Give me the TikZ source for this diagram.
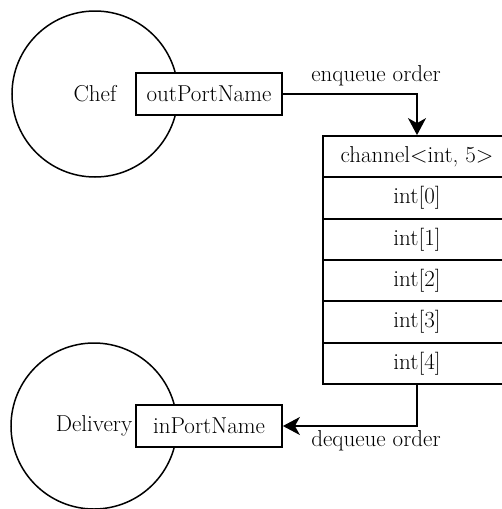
\documentclass[tikz,border=0pt]{standalone}
\usepackage{fontspec}
\usetikzlibrary{arrows.meta}

\tikzset{
  x=1pt, y=-1pt,
  every node/.style={font=\fontsize{23}{27}\selectfont, inner sep=0pt},
  actor/.style={circle, draw, line width=1.5pt, minimum size=166pt},
  port/.style={draw, fill=white, line width=1.8pt, minimum width=146pt, minimum height=42pt},
  slot/.style={draw, line width=1.8pt, minimum width=188pt, minimum height=41.33pt},
  flow/.style={line width=1.8pt, -{Stealth[length=17pt, width=18pt, inset=5pt]}},
}

\begin{document}
\begin{tikzpicture}
  \useasboundingbox (0,0) rectangle (502,509);

  % processes
  \node[actor] (chef) at (95,94) {Chef};
  \node[actor] (delivery) at (94,426) {Delivery};

  % ports
  \node[port] (outport) at (209,94) {outPortName};
  \node[port] (inport) at (209,426) {inPortName};

  % channel buffer
  \node[slot] (chan) at (417,156.67) {channel<int, 5>};
  \node[slot] (s0) at (417,198.00) {int[0]};
  \node[slot] (s1) at (417,239.33) {int[1]};
  \node[slot] (s2) at (417,280.67) {int[2]};
  \node[slot] (s3) at (417,322.00) {int[3]};
  \node[slot] (s4) at (417,363.33) {int[4]};

  % data flow
  \draw[flow] (outport.east) -| (chan.north);
  \node (enq) at (376,76) {enqueue order};
  \draw[flow] (s4.south) |- (inport.east);
  \node (deq) at (376,441) {dequeue order};
\end{tikzpicture}
\end{document}
